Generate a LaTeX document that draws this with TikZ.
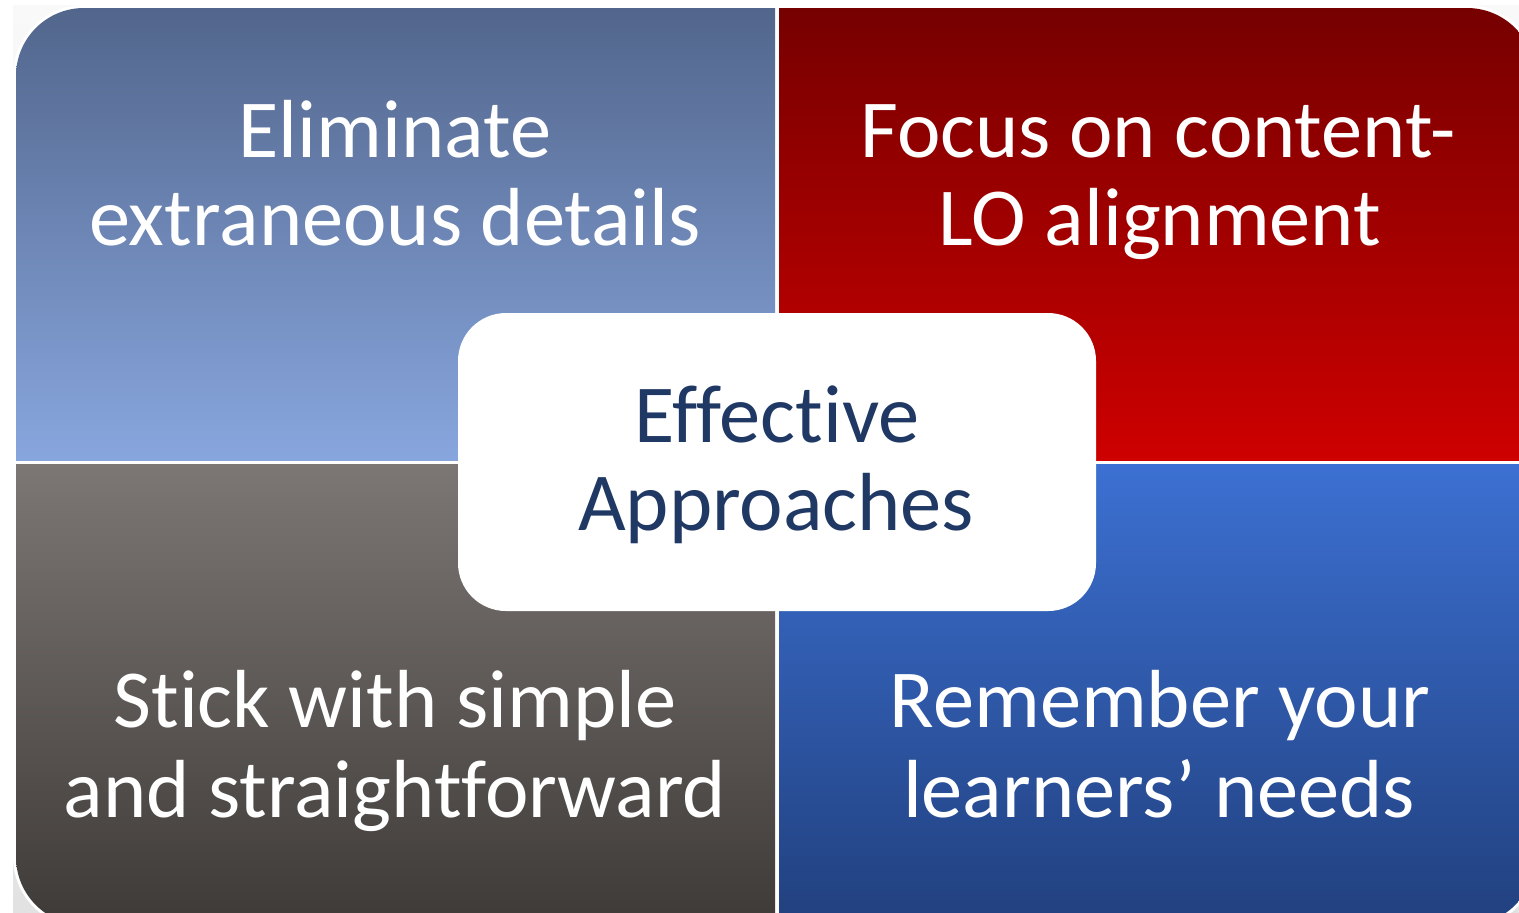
\documentclass[tikz,border=0pt]{standalone}
\usepackage{fontspec}
\setmainfont{Carlito}[Ligatures={NoCommon}]
\definecolor{tlTop}{RGB}{82,102,140}
\definecolor{tlBot}{RGB}{136,166,222}
\definecolor{trTop}{RGB}{118,0,0}
\definecolor{trBot}{RGB}{206,0,0}
\definecolor{blTop}{RGB}{124,119,116}
\definecolor{blBot}{RGB}{62,58,56}
\definecolor{brTop}{RGB}{60,112,210}
\definecolor{brBot}{RGB}{33,64,126}
\definecolor{hubText}{RGB}{31,56,100}
\definecolor{bgTop}{RGB}{249,249,249}
\definecolor{bgBot}{RGB}{226,226,226}
\begin{document}
\begin{tikzpicture}[x=0.5pt,y=-0.5pt,
  quad/.style={rectangle, draw=none, inner sep=0pt, outer sep=0pt},
  label/.style={anchor=base, inner sep=0pt, text=white,
    font=\fontsize{41.2pt}{44pt}\selectfont},
  hublabel/.style={label, text=hubText},
  hubbox/.style={rectangle, fill=white, draw=none, rounded corners=24pt,
    inner sep=0pt, minimum width=319pt, minimum height=149pt}]
\useasboundingbox (0,0) rectangle (1519,912);
\begin{scope}
\clip (0,0) rectangle (1519,912);
% soft backdrop behind the panel
\fill[top color=bgTop, bottom color=bgBot] (13,5) rectangle (1519,912);
% white rim and base of the panel
\fill[white, rounded corners=35.5pt] (13,5) rectangle (1538,928);
% four quadrants, clipped to the rounded outline
\begin{scope}
\clip[rounded corners=34pt] (16,8) rectangle (1535,925);
\node[quad, top color=tlTop, bottom color=tlBot,
  minimum width=379.5pt, minimum height=226pt] (tl) at (395.5,234) {};
\node[quad, top color=trTop, bottom color=trBot,
  minimum width=378pt, minimum height=226pt] (tr) at (1157,234) {};
\node[quad, top color=blTop, bottom color=blBot,
  minimum width=379.5pt, minimum height=230.5pt] (bl) at (395.5,694.5) {};
\node[quad, top color=brTop, bottom color=brBot,
  minimum width=378pt, minimum height=230.5pt] (br) at (1157,694.5) {};
\end{scope}
% central box
\node[hubbox] (hub) at (777,462) {};
% quadrant texts
\node[label] (tla) at (395,157) {Eliminate};
\node[label] (tlb) at (395,245) {extraneous details};
\node[label] (tra) at (1158,157) {Focus on content-};
\node[label] (trb) at (1160,245) {LO alignment};
\node[label] (bla) at (395,727) {Stick with simple};
\node[label] (blb) at (395,817) {and straightforward};
\node[label] (bra) at (1160,727) {Remember your};
\node[label] (brb) at (1159,817) {learners’ needs};
% central text
\node[hublabel] (hua) at (777,442) {Effective};
\node[hublabel] (hub2) at (776,530) {Approaches};
\end{scope}
\end{tikzpicture}
\end{document}
